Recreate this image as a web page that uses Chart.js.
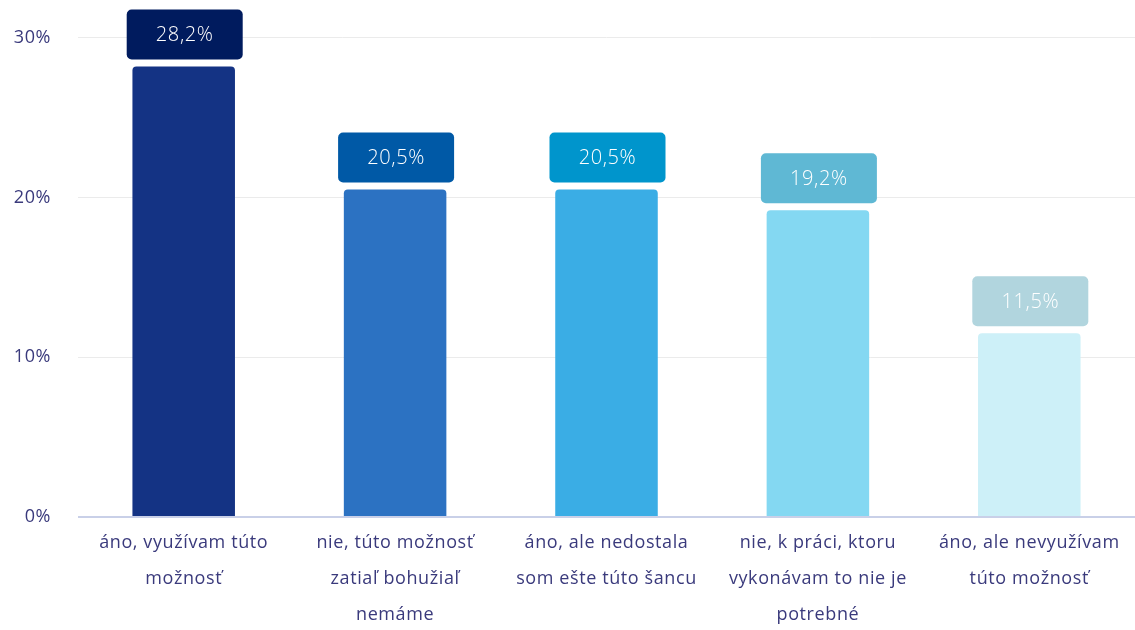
<!DOCTYPE html>
<html>
<head>
<meta charset="utf-8">
<script src="https://cdn.jsdelivr.net/npm/chart.js@4/dist/chart.umd.min.js"></script>
<style>
  html, body { margin: 0; padding: 0; background: #fff; }
  #wrap { width: 1135px; height: 630px; }
</style>
</head>
<body>
<div id="wrap"><canvas id="myChart"></canvas></div>
<script>
// values
var categories = [
  ["áno, využívam túto", "možnosť"],
  ["nie, túto možnosť", "zatiaľ bohužiaľ", "nemáme"],
  ["áno, ale nedostala", "som ešte túto šancu"],
  ["nie, k práci, ktoru", "vykonávam to nie je", "potrebné"],
  ["áno, ale nevyužívam", "túto možnosť"]
];
var values = [28.2, 20.5, 20.5, 19.2, 11.5];
var yTicks = [0, 10, 20, 30];

var barColors = ["#143384", "#2c72c2", "#3aade5", "#84d8f2", "#cdf0f8"];
var boxColors = ["#001b5e", "#0059a6", "#0095cc", "#5fb8d4", "#b1d5de"];
var textColor = "#3a3a7c";
var fontFamily = "'Open Sans', sans-serif";

// wider letter spacing, the original font is a wide geometric one
var spacing = {
  id: "spacing",
  beforeDraw: function(chart) {
    chart.ctx.letterSpacing = "0.6px";
  }
};

// draws the value box above each bar
var valueBoxes = {
  id: "valueBoxes",
  afterDatasetsDraw: function(chart) {
    var c = chart.ctx;
    var meta = chart.getDatasetMeta(0);
    c.save();
    for (var i = 0; i < meta.data.length; i++) {
      var bar = meta.data[i];
      var w = 116, h = 50;
      var x = bar.x - w / 2 + 1;
      var y = bar.y - 7 - h;
      c.fillStyle = boxColors[i];
      c.beginPath();
      c.roundRect(x, y, w, h, 5);
      c.fill();
      c.fillStyle = "#ffffff";
      c.font = "300 20px " + fontFamily;
      c.letterSpacing = "0.6px";
      c.textAlign = "center";
      c.textBaseline = "middle";
      c.fillText(values[i].toFixed(1).replace(".", ",") + "%", bar.x + 1, y + h / 2 + 1);
    }
    c.restore();
  }
};

var ctx = document.getElementById("myChart").getContext("2d");
var chart = new Chart(ctx, {
  type: "bar",
  data: {
    labels: categories,
    datasets: [
      {
        data: values,
        backgroundColor: barColors,
        borderRadius: 4,
        borderSkipped: "bottom",
        barPercentage: 0.485,
        categoryPercentage: 1
      }
    ]
  },
  options: {
    responsive: true,
    maintainAspectRatio: false,
    animation: false,
    layout: { padding: { top: 29, right: 0, left: 0, bottom: 0 } },
    plugins: {
      legend: { display: false },
      tooltip: { enabled: false }
    },
    scales: {
      x: {
        grid: { display: false, drawTicks: false },
        border: { display: false },
        afterFit: function(axis) { axis.height = 113; },
        ticks: {
          color: textColor,
          font: { family: fontFamily, size: 18, lineHeight: 2.0 },
          padding: 8,
          maxRotation: 0,
          autoSkip: false
        }
      },
      y: {
        min: 0,
        max: 30,
        afterBuildTicks: function(axis) {
          axis.ticks = yTicks.map(function(v) { return { value: v }; });
        },
        afterFit: function(axis) { axis.width = 78; },
        grid: {
          drawTicks: false,
          color: function(c) { return c.tick && c.tick.value === 0 ? "#c9d0e8" : "#ebebeb"; },
          lineWidth: function(c) { return c.tick && c.tick.value === 0 ? 2 : 1; }
        },
        border: { display: false },
        ticks: {
          color: textColor,
          font: { family: fontFamily, size: 18 },
          padding: 27,
          callback: function(v) { return v + "%"; }
        }
      }
    }
  },
  plugins: [spacing, valueBoxes]
});
</script>
</body>
</html>
